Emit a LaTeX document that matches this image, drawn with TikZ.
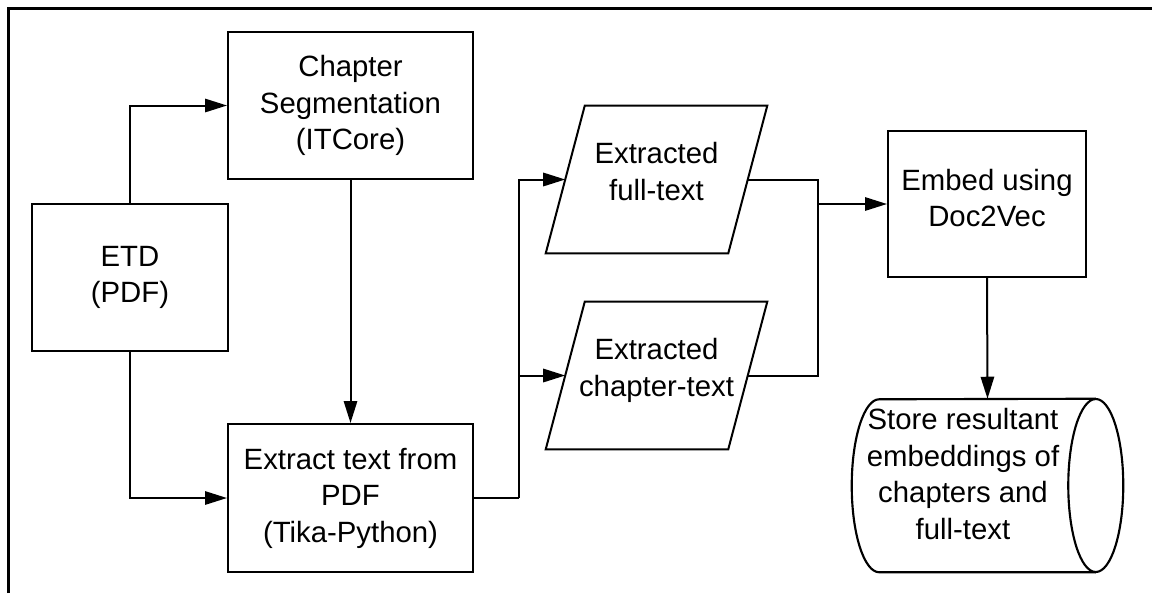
\documentclass[tikz,border=0pt]{standalone}
\usepackage{fontspec}
\setmainfont{Liberation Sans}
\usetikzlibrary{arrows.meta,calc}

\begin{document}
\begin{tikzpicture}[x=0.75pt,y=-0.75pt,
  every node/.style={font=\fontsize{22}{27.4}\selectfont, align=center, inner sep=0pt},
  stepbox/.style={draw, line width=1.5pt},
  flowline/.style={line width=1.5pt},
  arr/.style={flowline, -{Triangle[length=16.5pt,width=10pt]}},
  dataline/.style={line width=1.5pt, line join=miter},
  cylline/.style={line width=1.6pt},
  frameline/.style={line width=2.25pt}]

\useasboundingbox (0,0) rectangle (1152,593);
\fill[white] (0,0) rectangle (1152,593);

% outer frame
\draw[frameline] (8,593) -- (8,8) -- (1152,8);

% process boxes
\node[stepbox, minimum width=147pt, minimum height=110.25pt] (etd) at (130,277.5) {ETD\\(PDF)};
\node[stepbox, minimum width=183.75pt, minimum height=110.25pt] (chap) at (350.5,105.5) {Chapter\\Segmentation\\(ITCore)};
\node[stepbox, minimum width=183.75pt, minimum height=111pt] (extract) at (350.5,498) {Extract text from\\PDF\\(Tika-Python)};
\node[stepbox, minimum width=148.5pt, minimum height=109.5pt, text depth=9pt] (embed) at (987,204) {Embed using\\Doc2Vec};

% data (parallelogram) nodes
\node[minimum width=136.5pt, minimum height=110.25pt, text depth=12pt] (full) at (656.5,179.5) {Extracted\\full-text};
\node[minimum width=136.5pt, minimum height=110.25pt, text depth=12pt] (chtext) at (656.5,375.5) {Extracted\\chapter-text};
\foreach \p in {full,chtext}{
  \draw[dataline] ($(\p.north west)+(19.5,0)$) -- ($(\p.north east)+(19.5,0)$)
    -- ($(\p.south east)-(19.5,0)$) -- ($(\p.south west)-(19.5,0)$) -- cycle;
}

% storage cylinder
\node[minimum width=162pt, minimum height=129.75pt] (store) at (987.5,485.5) {};
\node (storetext) at (963,474) {Store resultant\\embeddings of\\chapters and\\full-text};
\draw[cylline] (store.south east) -- (store.south west)
  arc[start angle=90, end angle=270, x radius=27.5, y radius=86.5] -- (store.north east);
\draw[cylline] (store.east) ellipse[x radius=27.5, y radius=86.5];

% connectors
\coordinate (split) at (519,498);
\coordinate (merge) at (818,204);
\draw[arr] (etd.north) |- (chap.west);
\draw[arr] (etd.south) |- (extract.west);
\draw[arr] (chap.south) -- (extract.north);
\draw[flowline] (extract.east) -- (split);
\draw[arr] (split) |- (full.west);
\draw[arr] (split) |- (chtext.west);
\draw[flowline] (full.east) -| (merge);
\draw[flowline] (chtext.east) -| (merge);
\draw[arr] (merge) -- (embed.west);
\draw[arr] (embed.south) -- (store.north);
\end{tikzpicture}
\end{document}
